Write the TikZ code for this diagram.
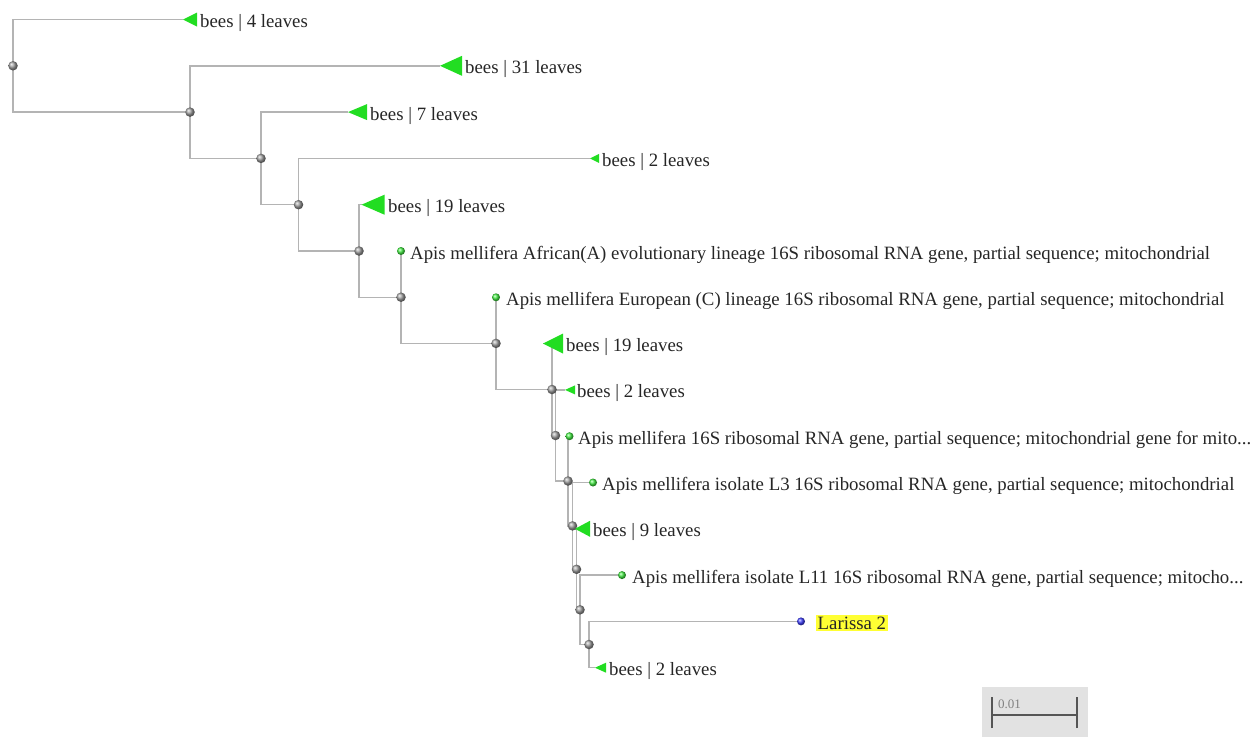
\documentclass[tikz,border=0pt]{standalone}
\usepackage{fontspec}
\setmainfont{Liberation Serif}
\definecolor{edgec}{HTML}{B4B4B4}
\definecolor{leafgreen}{HTML}{22DD22}
\definecolor{dotgreen}{HTML}{44EE44}
\definecolor{txt}{HTML}{262626}
\definecolor{scalebg}{HTML}{E2E2E2}
\definecolor{scalebar}{HTML}{555555}
\definecolor{hl}{HTML}{FFFF33}
\pgfdeclarelayer{bg}
\pgfsetlayers{bg,main}
\begin{document}
\begin{tikzpicture}[x=1pt,y=-1pt,
  edge/.style={draw=edgec, line width=1.4pt},
  innerdot/.style={circle, inner sep=0pt, minimum size=9.5pt, ball color=gray!75},
  leafdot/.style={circle, inner sep=0pt, minimum size=8pt, ball color=dotgreen},
  bluedot/.style={circle, inner sep=0pt, minimum size=8pt, ball color=blue!75},
  lbl/.style={anchor=base west, inner sep=0pt, text=txt, font=\fontsize{18.8}{21}\selectfont},
  collapsed/.style={fill=leafgreen}
]
\useasboundingbox (0,0) rectangle (1251,737);
\newcommand{\tri}[3]{\fill[collapsed] (#1) -- ++(#2,-#3) -- ++(0,2*#3) -- cycle;}

% internal nodes
\node[innerdot] (R)  at (13,65.8) {};
\node[innerdot] (A)  at (190,112.1) {};
\node[innerdot] (B)  at (261,158.4) {};
\node[innerdot] (C)  at (298.5,204.7) {};
\node[innerdot] (D)  at (359,251) {};
\node[innerdot] (E)  at (401,297.2) {};
\node[innerdot] (F)  at (496,343.4) {};
\node[innerdot] (G)  at (552,389.5) {};
\node[innerdot] (N1) at (555.5,435.5) {};
\node[innerdot] (N2) at (568,481) {};
\node[innerdot] (N3) at (572.5,525.9) {};
\node[innerdot] (N4) at (576.5,569.3) {};
\node[innerdot] (N5) at (580,609.8) {};
\node[innerdot] (N6) at (589,644.5) {};

% leaves
\coordinate (l1) at (183,19.5);
\coordinate (l2) at (440,65.8);
\coordinate (l3) at (348,112.1);
\coordinate (l4) at (590,158.4);
\coordinate (l5) at (361.5,204.7);
\node[leafdot] (l6) at (401,251) {};
\node[leafdot] (l7) at (496,297.3) {};
\coordinate (l8) at (543,343.6);
\coordinate (l9) at (565,389.9);
\node[leafdot] (l10) at (569.5,436.2) {};
\node[leafdot] (l11) at (593,482.5) {};
\coordinate (l12) at (575,528.8);
\node[leafdot] (l13) at (622,575.1) {};
\node[bluedot] (l14) at (801,621.4) {};
\coordinate (l15) at (595,667.7);

% edges
\begin{pgfonlayer}{bg}
\draw[edge] (R.center) |- (l1);
\draw[edge] (R.center) |- (A.center);
\draw[edge] (A.center) |- (l2);
\draw[edge] (A.center) |- (B.center);
\draw[edge] (B.center) |- (l3);
\draw[edge] (B.center) |- (C.center);
\draw[edge] (C.center) |- (l4);
\draw[edge] (C.center) |- (D.center);
\draw[edge] (D.center) |- (l5);
\draw[edge] (D.center) |- (E.center);
\draw[edge] (E.center) |- (l6.center);
\draw[edge] (E.center) |- (F.center);
\draw[edge] (F.center) |- (l7.center);
\draw[edge] (F.center) |- (G.center);
\draw[edge] (G.center) |- (l8);
\draw[edge] (G.center) |- (N1.center);
\draw[edge] (N1.center) |- (l9);
\draw[edge] (N1.center) |- (N2.center);
\draw[edge] (N2.center) |- (l10.center);
\draw[edge] (N2.center) |- (N3.center);
\draw[edge] (N3.center) |- (l11.center);
\draw[edge] (N3.center) |- (N4.center);
\draw[edge] (N4.center) |- (l12);
\draw[edge] (N4.center) |- (N5.center);
\draw[edge] (N5.center) |- (l13.center);
\draw[edge] (N5.center) |- (N6.center);
\draw[edge] (N6.center) |- (l14.center);
\draw[edge] (N6.center) |- (l15);
\end{pgfonlayer}

% collapsed clades
\tri{l1}{14}{7}
\tri{l2}{22}{10}
\tri{l3}{19}{8}
\tri{l4}{9}{4.5}
\tri{l5}{23}{10}
\tri{l8}{20}{10}
\tri{l9}{10}{4.5}
\tri{l12}{15}{8}
\tri{l15}{11}{5}

% labels
\node[lbl] (t1)  at (200,27.5) {bees | 4 leaves};
\node[lbl] (t2)  at (465,73.8) {bees | 31 leaves};
\node[lbl] (t3)  at (370,120.1) {bees | 7 leaves};
\node[lbl] (t4)  at (602,166.4) {bees | 2 leaves};
\node[lbl] (t5)  at (388,212.7) {bees | 19 leaves};
\node[lbl] (t6)  at (410,259) {Apis mellifera African(A) evolutionary lineage 16S ribosomal RNA gene, partial sequence; mitochondrial};
\node[lbl] (t7)  at (506,305.3) {Apis mellifera European (C) lineage 16S ribosomal RNA gene, partial sequence; mitochondrial};
\node[lbl] (t8)  at (566,351.6) {bees | 19 leaves};
\node[lbl] (t9)  at (577,397.9) {bees | 2 leaves};
\node[lbl] (t10) at (578,444.2) {Apis mellifera 16S ribosomal RNA gene, partial sequence; mitochondrial gene for mito...};
\node[lbl] (t11) at (602,490.5) {Apis mellifera isolate L3 16S ribosomal RNA gene, partial sequence; mitochondrial};
\node[lbl] (t12) at (593,536.8) {bees | 9 leaves};
\node[lbl] (t13) at (632,583.1) {Apis mellifera isolate L11 16S ribosomal RNA gene, partial sequence; mitocho...};
\node[lbl, fill=hl, inner sep=1.5pt] (t14) at (816,629.4) {Larissa 2};
\node[lbl] (t15) at (609,675.7) {bees | 2 leaves};

% scale bar
\fill[scalebg] (982,687) rectangle (1088,737);
\coordinate (s1) at (992,715);
\coordinate (s2) at (1077,715);
\draw[scalebar, line width=1.6pt] (s1) -- (s2);
\draw[scalebar, line width=1.6pt] ([yshift=-13pt]s1) -- ([yshift=18pt]s1);
\draw[scalebar, line width=1.6pt] ([yshift=-13pt]s2) -- ([yshift=18pt]s2);
\node[anchor=base west, inner sep=0pt, text=gray, font=\fontsize{13}{15}\selectfont] (sl) at (998,708) {0.01};
\end{tikzpicture}
\end{document}
